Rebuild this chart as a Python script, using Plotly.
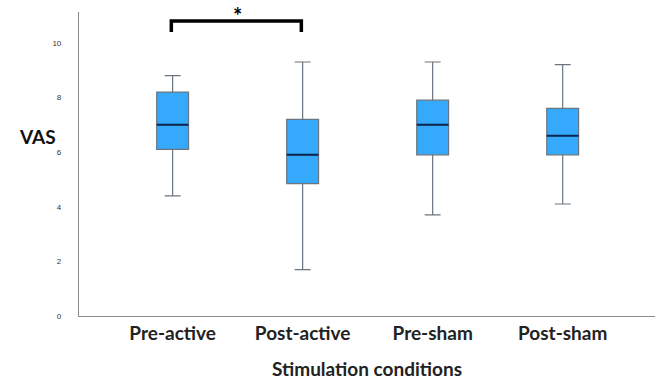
import plotly.graph_objects as go

categories = ["Pre-active", "Post-active", "Pre-sham", "Post-sham"]
lower_whisker = [4.4, 1.7, 3.7, 4.1]
q1 = [6.1, 4.85, 5.9, 5.9]
median = [7.0, 5.9, 7.0, 6.6]
q3 = [8.2, 7.2, 7.9, 7.6]
upper_whisker = [8.8, 9.3, 9.3, 9.2]
y_ticks = [0, 2, 4, 6, 8, 10]

idx = list(range(len(categories)))

fig = go.Figure()
fig.add_trace(go.Box(
    x=idx, q1=q1, median=median, q3=q3,
    lowerfence=lower_whisker, upperfence=upper_whisker,
    fillcolor="#35A9FB", line=dict(color="#6a7580", width=1.2),
    width=0.245, whiskerwidth=0.5, boxpoints=False, showlegend=False,
    hoverinfo="skip",
))
# median lines drawn as a degenerate box in navy
fig.add_trace(go.Box(
    x=idx, q1=median, median=median, q3=median,
    lowerfence=median, upperfence=median,
    fillcolor="rgba(0,0,0,0)", line=dict(color="#0b2450", width=2),
    width=0.245, whiskerwidth=0, boxpoints=False, showlegend=False,
    hoverinfo="skip",
))

# significance bracket between first two categories
b_top, b_end = 10.8, 10.4
fig.add_shape(type="path",
              path=f"M {idx[0]-0.01},{b_end} L {idx[0]-0.01},{b_top} L {idx[1]-0.01},{b_top} L {idx[1]-0.01},{b_end}",
              xref="x", yref="y", line=dict(color="black", width=3.5))
fig.add_annotation(x=(idx[0] + idx[1]) / 2, y=1.0, xref="x", yref="paper",
                   text="<b>*</b>", showarrow=False, yanchor="top", yshift=12,
                   font=dict(family="Lato", size=22, color="black"))

fig.add_annotation(x=-0.107, y=0.59, xref="paper", yref="paper", text="<b>VAS</b>",
                   showarrow=False, font=dict(family="Lato", size=19, color="#111"))
fig.add_annotation(x=0.5, y=0, xref="paper", yref="paper", yanchor="middle",
                   yshift=-52, text="<b>Stimulation conditions</b>", showarrow=False,
                   font=dict(family="Lato", size=19, color="#222"))

fig.update_layout(
    width=661, height=379,
    margin=dict(l=79, r=6, t=12, b=63),
    plot_bgcolor="white", paper_bgcolor="white",
    boxmode="overlay",
    xaxis=dict(
        range=[-0.72, 3.71], tickmode="array", tickvals=idx,
        ticktext=[f"<b>{c}</b>" for c in categories],
        tickfont=dict(family="Lato", size=19, color="#222"),
        showline=True, linecolor="#8a8a8a", linewidth=1.2,
        showgrid=False, zeroline=False, ticks="", ticklen=0,
        automargin=False,
    ),
    yaxis=dict(
        range=[0, 11.13], tickmode="array", tickvals=y_ticks,
        tickfont=dict(family="Arial", size=8, color="#333"),
        showline=True, linecolor="#8a8a8a", linewidth=1.2,
        showgrid=False, zeroline=False,
        ticks="outside", ticklen=15, tickcolor="rgba(0,0,0,0)",
        automargin=False,
    ),
)

fig.write_html("out.html", config={"displayModeBar": False},
               post_script="document.body.style.margin='0px';")
